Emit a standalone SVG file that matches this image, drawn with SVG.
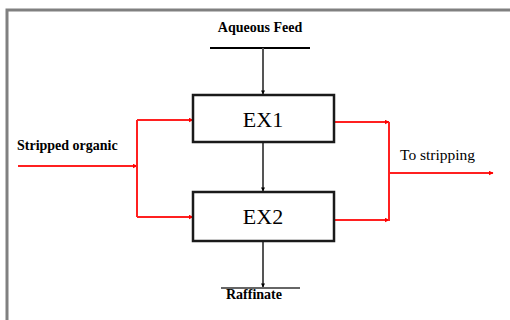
<svg xmlns="http://www.w3.org/2000/svg" width="510" height="320" viewBox="0 0 510 320">
<style>
.frame{fill:none;stroke:#808080;stroke-width:3}
.box{fill:#fff;stroke:#1a1a1a;stroke-width:2.5}
.gray{stroke:#555;stroke-width:2;fill:none}
.red{stroke:#ff2020;stroke-width:2;fill:none}
.bar{stroke:#000;stroke-width:2}
text{font-family:'Liberation Serif','Times New Roman','DejaVu Serif',serif;fill:#000}
.lbl{font-weight:bold;font-size:14px}
.big{font-size:22px}
</style>
<defs>
<marker id="ab" viewBox="0 0 10 10" refX="9" refY="5" markerWidth="4" markerHeight="4" orient="auto" markerUnits="userSpaceOnUse"><path d="M0,0L10,5L0,10z" fill="#000"/></marker>
<marker id="ar" viewBox="0 0 10 10" refX="9" refY="5" markerWidth="5" markerHeight="5" orient="auto" markerUnits="userSpaceOnUse"><path d="M0,0L10,5L0,10z" fill="#ff0000"/></marker>
</defs>
<rect class="frame" x="7" y="10" width="520" height="330"/>
<g id="connectors">
<line class="bar" x1="210" y1="48" x2="310" y2="48"/>
<line class="gray" x1="263" y1="48" x2="263" y2="94" marker-end="url(#ab)"/>
<line class="gray" x1="263" y1="143" x2="263" y2="191" marker-end="url(#ab)"/>
<line class="gray" x1="263" y1="242" x2="263" y2="287" marker-end="url(#ab)"/>
<line x1="221" y1="288" x2="300" y2="288" stroke="#333" stroke-width="1.5"/>
<line class="red" x1="18" y1="166" x2="137" y2="166" marker-end="url(#ar)"/>
<path class="red" d="M137,120V217"/>
<line class="red" x1="137" y1="120" x2="193" y2="120" marker-end="url(#ar)"/>
<line class="red" x1="137" y1="217" x2="193" y2="217" stroke-width="3" marker-end="url(#ar)"/>
<line class="red" x1="334" y1="122" x2="389" y2="122" marker-end="url(#ar)"/>
<line class="red" x1="335" y1="220" x2="389" y2="220" marker-end="url(#ar)"/>
<path class="red" d="M389,122V221"/>
<line class="red" x1="389" y1="173" x2="493" y2="173" marker-end="url(#ar)"/>
</g>
<g id="ex1">
<rect class="box" x="193" y="95" width="141" height="47"/>
<text class="big" x="263" y="127" text-anchor="middle">EX1</text>
</g>
<g id="ex2">
<rect class="box" x="193" y="192" width="141" height="49"/>
<text class="big" x="263" y="224" text-anchor="middle">EX2</text>
</g>
<g id="aqueous-feed"><text class="lbl" x="260" y="32" text-anchor="middle">Aqueous Feed</text></g>
<g id="stripped-organic"><text class="lbl" x="17" y="150">Stripped organic</text></g>
<g id="to-stripping"><text x="400" y="160" font-size="15.5">To stripping</text></g>
<g id="raffinate"><text class="lbl" x="254" y="299" text-anchor="middle">Raffinate</text></g>
</svg>
